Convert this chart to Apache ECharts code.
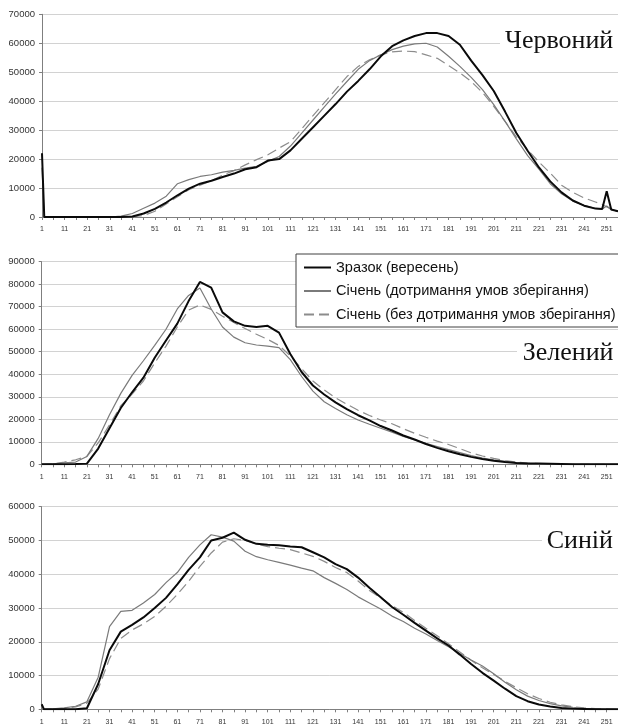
<!DOCTYPE html>
<html><head><meta charset="utf-8">
<script src="https://cdn.jsdelivr.net/npm/echarts@6/dist/echarts.min.js"></script>
<style>html,body{margin:0;padding:0;background:#fff}#c{width:618px;height:726px}</style>
</head><body><div id="c"></div>
<script>
// Category axis: brightness levels 1..256
const categories = [];
for (let i = 1; i <= 256; i++) categories.push(String(i));

const seriesNames = ['Зразок (вересень)', 'Січень (дотримання умов зберігання)', 'Січень (без дотримання умов зберігання)'];
const panelTitles = ['Червоний', 'Зелений', 'Синій'];
const yMax = [70000, 90000, 60000];

// Red channel (sampled levels)
const redX = [1,2,6,11,16,21,26,31,36,41,46,51,56,61,66,71,76,81,86,91,96,101,106,111,116,121,126,131,136,141,146,151,156,161,166,171,176,181,186,191,196,201,206,211,216,221,226,231,236,241,246,249,251,253,256];
const redSample = [22000,0,0,0,0,0,0,0,0,200,1200,2800,5000,7500,9800,11500,12500,13800,15000,16500,17200,19500,20000,23000,27000,31000,35000,39000,43300,47000,51000,55500,59000,61000,62500,63500,63500,62500,59500,54000,49000,43500,36400,29000,22900,17100,12300,8500,5700,3900,2900,2800,8900,2600,2000];
const redJanKept = [17000,0,0,0,0,0,0,0,300,1200,3000,4800,7200,11500,12900,14000,14600,15500,16100,16900,17500,19200,20900,24500,29000,33500,38000,42500,46800,51000,54000,56000,57800,59000,59800,60000,58700,55500,52000,48200,44000,38800,33000,27000,21200,16500,11500,8000,5500,4000,3000,2800,3800,2500,2000];
const redJanNotKept = [0,0,0,0,0,0,0,0,0,0,500,2000,4500,7000,9400,11000,12500,14500,16000,18000,19800,21500,23800,26000,30500,35000,39500,44000,48500,52000,54300,56000,57000,57300,57100,56000,54800,52300,49800,46800,43000,38200,33000,27700,23200,19000,15200,11000,8500,6600,5200,4300,3500,2800,2000];

// Green channel
const greenX = [1,6,11,16,21,26,31,36,41,46,51,56,61,66,71,76,81,86,91,96,101,106,111,116,121,126,131,136,141,146,151,156,161,166,171,176,181,186,191,196,201,206,211,216,221,226,231,236,241,246,251,256];
const greenSample = [0,0,0,100,300,7000,16000,25000,32000,38500,47300,55000,62500,72500,81000,78500,67500,63500,61500,61000,61500,58500,49000,41000,35000,31000,27500,24500,21800,19500,17000,15000,12800,11000,9000,7300,5800,4500,3300,2400,1600,1000,600,400,300,200,100,0,0,0,0,0];
const greenJanKept = [0,200,700,1000,3500,11500,22000,31500,39500,46000,52800,60000,69000,75000,78300,69000,61000,56500,54000,53000,52500,51800,46500,39000,32500,27800,24800,22000,19700,17800,16000,14300,12400,10800,9300,7900,6500,5200,3900,2800,2000,1300,800,400,200,100,0,0,0,0,0,0];
const greenJanNotKept = [0,200,1000,2000,3500,9500,17500,26000,31200,37000,45000,52500,61000,68500,70800,68800,65800,63000,60300,57800,55500,52800,48200,42500,37000,33000,29500,26700,24000,21700,19700,18000,15800,13800,12000,10300,8800,7000,5100,3700,2600,1700,1000,500,300,150,0,0,0,0,0,0];

// Blue channel
const blueX = [1,2,6,11,16,21,26,31,36,41,46,51,56,61,66,71,76,81,86,91,96,101,106,111,116,121,126,131,136,141,146,151,156,161,166,171,176,181,186,191,196,201,206,211,216,221,226,231,236,241,246,251,256];
const blueSample = [1500,0,0,0,0,300,7500,17500,23000,25000,27200,30000,33000,37000,41300,45000,50000,50800,52300,50200,49000,48700,48600,48200,48000,46500,45000,43000,41500,39000,36000,33200,30300,28000,25600,23300,21000,18900,16200,13400,10800,8500,6100,3900,2400,1400,800,400,200,100,0,0,0];
const blueJanKept = [0,0,100,400,900,2200,9500,24500,29000,29300,31500,34000,37500,40500,45000,48700,51700,51000,49800,46800,45200,44300,43500,42700,41800,41000,39000,37300,35500,33300,31500,29700,27600,26000,24000,22300,20400,18500,16500,14600,12800,10500,8000,5800,3900,2600,1700,1000,600,300,150,0,0];
const blueJanNotKept = [0,0,100,300,700,1800,6000,15000,21000,23500,25300,27500,30500,34000,37900,42300,46300,49500,50500,50000,49000,48200,47700,47300,46300,45300,43800,42000,40500,38000,35200,33000,30700,28700,26300,24000,21800,19400,17000,14500,12300,10300,8300,6400,4600,3200,2100,1300,800,400,200,100,0];

const panels = [
  {x: redX, vals: [redSample, redJanKept, redJanNotKept]},
  {x: greenX, vals: [greenSample, greenJanKept, greenJanNotKept]},
  {x: blueX, vals: [blueSample, blueJanKept, blueJanNotKept]}
];

const gridPos = [
  {left: 42, top: 14.3, width: 582.2, height: 202.7},
  {left: 41.7, top: 261.7, width: 582.2, height: 202.6},
  {left: 41.7, top: 506.7, width: 582.2, height: 202.6}
];

const lineStyles = [
  {color: '#0a0a0a', width: 2, type: 'solid'},
  {color: '#7a7a7a', width: 1.2, type: 'solid'},
  {color: '#8c8c8c', width: 1.2, type: [10, 5]}
];
const zs = [5, 4, 3];

const grids = [], xAxes = [], yAxes = [], series = [];
panels.forEach((p, i) => {
  grids.push(Object.assign({containLabel: false}, gridPos[i]));
  xAxes.push({
    type: 'category', gridIndex: i, data: categories, boundaryGap: false,
    axisLine: {lineStyle: {color: '#7f7f7f', width: 1}},
    axisTick: {show: true, interval: 4, length: 3, lineStyle: {color: '#7f7f7f'}},
    axisLabel: {interval: 9, fontSize: 7, color: '#333', margin: 9, fontFamily: 'Liberation Sans'},
    splitLine: {show: false}
  });
  yAxes.push({
    type: 'value', gridIndex: i, min: 0, max: yMax[i], interval: 10000,
    axisLine: {show: true, lineStyle: {color: '#7f7f7f', width: 1}},
    axisTick: {show: true, length: 3, lineStyle: {color: '#7f7f7f'}},
    axisLabel: {fontSize: 9.5, color: '#333', margin: 7, fontFamily: 'Liberation Sans', formatter: v => String(v)},
    splitLine: {lineStyle: {color: '#d2d2d2', width: 1}}
  });
  p.vals.forEach((v, k) => {
    series.push({
      name: seriesNames[k], type: 'line', xAxisIndex: i, yAxisIndex: i,
      data: p.x.map((c, j) => [c - 1, v[j]]),
      symbol: 'none', showSymbol: false, smooth: false, z: zs[k],
      lineStyle: lineStyles[k], itemStyle: {color: lineStyles[k].color},
      emphasis: {disabled: true}, animation: false
    });
  });
});

const titleBoxes = [
  {rx: 500, ry: 24, rw: 125, rh: 36, tx: 505, ty: 41.6},
  {rx: 517, ry: 336, rw: 105, rh: 32, tx: 522.7, ty: 353.3},
  {rx: 542, ry: 524, rw: 80, rh: 33, tx: 546.7, ty: 540.9}
];
const graphic = [];
titleBoxes.forEach((b, i) => {
  graphic.push({type: 'rect', z: 20, shape: {x: b.rx, y: b.ry, width: b.rw, height: b.rh}, style: {fill: '#fff'}});
  graphic.push({type: 'text', z: 21, x: b.tx, y: b.ty, style: {text: panelTitles[i], fontSize: 26, fontFamily: 'Liberation Serif', fill: '#111', verticalAlign: 'middle', align: 'left'}});
});

const chart = echarts.init(document.getElementById('c'), null, {renderer: 'canvas'});
chart.setOption({
  backgroundColor: '#fff',
  animation: false,
  grid: grids, xAxis: xAxes, yAxis: yAxes, series: series,
  legend: {
    data: seriesNames, orient: 'vertical', left: 296, top: 254,
    padding: [6, 12, 5, 7], itemWidth: 27, itemHeight: 14, itemGap: 8.5,
    borderColor: '#404040', borderWidth: 1, backgroundColor: '#fff',
    itemStyle: {opacity: 0},
    textStyle: {fontSize: 14.6, color: '#111', fontFamily: 'Liberation Sans'},
    selectedMode: false, z: 10
  },
  graphic: graphic
});
</script>
</body></html>
